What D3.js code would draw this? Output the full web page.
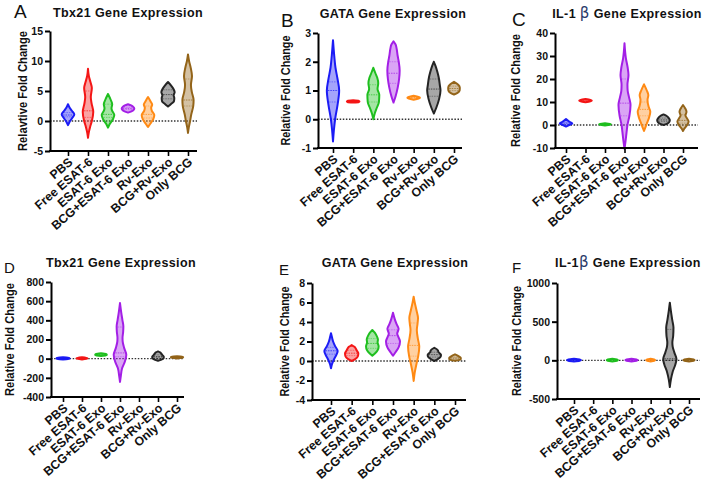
<!DOCTYPE html>
<html>
<head>
<meta charset="utf-8">
<script src="https://cdn.jsdelivr.net/npm/d3@7"></script>
<style>
  body { margin: 0; background: #fff; }
  svg { display: block; }
</style>
</head>
<body>
<svg width="708" height="483"></svg>
<script>
// groups on the x axis
const groups = ["PBS", "Free ESAT-6", "ESAT-6 Exo", "BCG+ESAT-6 Exo", "Rv-Exo", "BCG+Rv-Exo", "Only BCG"];
const groupsE = ["PBS", "Free ESAT-6", "ESAT-6 Exo", "BCG+ESAT-6 Exo", "Rv-Exo", "BCG+ESAT-6 Exo ", "Only BCG"];
const palette = ["#1c1cf5", "#f41616", "#1fbf1f", "#a31fe6", "#ff8a14", "#242424", "#936419"];

// violin outlines: [value, relative density]
const violinsA = [
  [[-0.7,0],[-0.2,0.2],[0.5,0.6],[1.1,0.9],[1.7,0.55],[2.3,0.2],[2.8,0]],
  [[-2.8,0],[-2,0.1],[-1,0.3],[0,0.55],[1.5,0.75],[3,0.5],[4,0.4],[5.5,0.55],[6.5,0.35],[7.5,0.12],[8.7,0]],
  [[-1.1,0],[-0.5,0.25],[0.3,0.7],[1,0.9],[1.7,0.6],[2.1,0.5],[2.8,0.6],[3.5,0.4],[4.5,0]],
  [[1.4,0],[1.6,0.5],[1.9,0.85],[2.1,0.9],[2.4,0.7],[2.6,0.45],[2.8,0]],
  [[-1,0],[-0.5,0.3],[0.3,0.75],[1,0.9],[1.7,0.55],[2.2,0.45],[2.7,0.6],[3.3,0.35],[4,0]],
  [[2.4,0],[2.8,0.4],[3.3,0.85],[3.8,0.9],[4.3,0.8],[4.8,0.95],[5.3,0.8],[5.9,0.45],[6.5,0]],
  [[-2,0],[-1,0.12],[0,0.3],[1,0.45],[2.5,0.75],[3.5,0.8],[4.8,0.55],[6,0.42],[7.5,0.57],[8.8,0.4],[10,0.15],[11.1,0]]
];
const statsA = [[0.7,1.0,1.4],[0.6,1.7,5.0],[0.6,1.1,2.8],[1.9,2.1,2.3],[0.5,1.1,2.5],[3.7,4.4,5.2],[2.5,3.5,7.0]];

const violinsB = [
  [[-0.77,0],[-0.4,0.12],[0,0.3],[0.5,0.65],[1,0.88],[1.4,0.65],[1.8,0.35],[2.2,0.18],[2.75,0]],
  [[0.58,0],[0.6,0.8],[0.62,0.9],[0.64,0.8],[0.66,0]],
  [[0,0],[0.2,0.2],[0.4,0.5],[0.6,0.8],[0.85,0.85],[1.05,0.6],[1.25,0.7],[1.45,0.55],[1.6,0.3],[1.79,0]],
  [[0.58,0],[0.8,0.3],[1.1,0.6],[1.4,0.8],[1.7,0.88],[2.0,0.75],[2.2,0.6],[2.45,0.45],[2.6,0.3],[2.71,0]],
  [[0.68,0],[0.72,0.7],[0.75,0.9],[0.78,0.7],[0.82,0]],
  [[0.2,0],[0.4,0.35],[0.7,0.75],[1.0,0.95],[1.2,0.85],[1.45,0.7],[1.65,0.5],[1.85,0.25],[2.0,0]],
  [[0.86,0],[0.92,0.5],[1.0,0.8],[1.1,0.83],[1.2,0.6],[1.3,0]]
];
const statsB = [[0.6,1.0,1.3],[0.61,0.62,0.63],[0.6,0.85,1.2],[1.25,1.6,2.0],[0.74,0.75,0.76],[0.8,1.05,1.4],[1.0,1.07,1.15]];

const violinsC = [
  [[-0.7,0],[0,0.45],[0.7,0.9],[1.4,0.5],[2.6,0]],
  [[9.9,0],[10.3,0.7],[10.6,0.9],[10.9,0.7],[11.3,0]],
  [[-0.2,0],[0.1,0.7],[0.3,0.83],[0.5,0.7],[0.8,0]],
  [[-10.4,0],[-7,0.15],[-3,0.3],[0,0.42],[4,0.7],[8.7,0.86],[12,0.65],[15,0.45],[17.5,0.42],[21.7,0.57],[25,0.45],[29,0.2],[35.5,0]],
  [[-2.6,0],[-1,0.2],[1,0.45],[3,0.7],[5.8,0.9],[8,0.65],[10.9,0.5],[13,0.62],[15,0.4],[17.7,0]],
  [[0,0],[0.7,0.6],[1.5,0.85],[2.2,0.9],[3,0.75],[3.8,0.5],[4.6,0]],
  [[-2.6,0],[-1.5,0.2],[0,0.6],[1.5,0.8],[3,0.55],[4.1,0.35],[5.8,0.5],[7.3,0.3],[8.7,0]]
];
const statsC = [[0.3,0.8,1.2],[10.4,10.6,10.8],[0.2,0.3,0.4],[4.0,9.5,20.0],[4.0,6.8,10.0],[1.5,2.2,3.0],[0.8,2.0,4.5]];

const violinsD = [
  [[-8,0],[-3,0.7],[3,0.95],[9,0.7],[14,0]],
  [[-8,0],[-2,0.6],[3,0.8],[8,0.6],[14,0]],
  [[28,0],[35,0.7],[42,0.83],[49,0.7],[56,0]],
  [[-243,0],[-180,0.12],[-100,0.3],[-30,0.7],[40,0.9],[110,0.6],[180,0.38],[216,0.36],[280,0.45],[337,0.48],[400,0.35],[480,0.18],[580,0]],
  null,
  [[-21,0],[-10,0.5],[5,0.8],[20,0.83],[35,0.65],[50,0.5],[65,0.3],[76,0]],
  [[2,0],[8,0.7],[14,0.88],[20,0.7],[26,0]]
];
const statsD = [[0,3,6],[0,3,6],[38,42,46],[20,60,330],null,[10,22,40],[10,14,18]];

const violinsE = [
  [[-0.75,0],[-0.3,0.15],[0.2,0.45],[0.6,0.75],[1.03,0.95],[1.5,0.6],[2,0.3],[2.4,0.15],[2.84,0]],
  [[0,0],[0.2,0.5],[0.5,0.9],[0.8,0.95],[1.05,0.75],[1.25,0.6],[1.45,0.4],[1.64,0]],
  [[0.55,0],[0.8,0.4],[1.1,0.75],[1.5,0.9],[1.9,0.75],[2.2,0.8],[2.6,0.6],[2.9,0.35],[3.18,0]],
  [[0.55,0],[0.9,0.35],[1.4,0.8],[2.0,1.0],[2.5,0.75],[2.8,0.6],[3.3,0.8],[3.8,0.5],[4.3,0.25],[4.95,0]],
  [[-2.05,0],[-1.2,0.15],[-0.3,0.4],[0.5,0.65],[1.47,0.8],[2.3,0.6],[3.18,0.45],[3.8,0.55],[4.4,0.62],[5.2,0.4],[6,0.15],[6.6,0]],
  [[0,0],[0.2,0.5],[0.45,0.9],[0.65,0.95],[0.9,0.6],[1.1,0.5],[1.36,0]],
  [[0.03,0],[0.15,0.8],[0.3,0.83],[0.45,0.6],[0.68,0]]
];
const statsE = [[0.7,1.05,1.4],[0.55,0.8,1.1],[1.3,1.8,2.3],[1.8,2.6,3.2],[0.5,1.6,3.9],[0.4,0.65,0.9],[0.2,0.3,0.4]];

const violinsF = [
  [[-15,0],[-6,0.8],[3,1.0],[12,0.8],[21,0]],
  null,
  [[-15,0],[-6,0.65],[3,0.8],[12,0.65],[21,0]],
  [[-15,0],[-6,0.7],[3,0.88],[12,0.7],[21,0]],
  [[-15,0],[-6,0.5],[3,0.64],[12,0.5],[21,0]],
  [[-345,0],[-250,0.15],[-150,0.4],[-50,0.8],[13,0.95],[100,0.65],[180,0.4],[229,0.36],[320,0.48],[423,0.52],[520,0.35],[640,0.15],[746,0]],
  [[-15,0],[-6,0.65],[3,0.8],[12,0.65],[21,0]]
];
const statsF = [[0,3,6],null,[0,3,6],[0,3,6],[0,3,6],[0,20,400],[0,3,6]];

const ticksA = [-5, 0, 5, 10, 15];
const ticksB = [-1, 0, 1, 2, 3];
const ticksC = [-10, 0, 10, 20, 30, 40];
const ticksD = [-400, -200, 0, 200, 400, 600, 800];
const ticksE = [-4, -2, 0, 2, 4, 6, 8];
const ticksF = [-500, 0, 500, 1000];

// panel setup
const panels = [
  { letter: "A", title: ["Tbx21 Gene Expression"], ylab: "Relavtive Fold Change", cats: groups,
    violins: violinsA, stats: statsA, ticks: ticksA, domain: [-5, 15],
    box: { x0: 50, x1: 197, top: 31, bot: 151, c0: 68, c1: 188, lx: 14, ly: 18, lsize: 19, tx: 128, ty: 17, yl: 27, ylen: 120 } },
  { letter: "B", title: ["GATA Gene Expression"], ylab: "Relative Fold Change", cats: groups,
    violins: violinsB, stats: statsB, ticks: ticksB, domain: [-1, 3],
    box: { x0: 318, x1: 462, top: 33, bot: 148, c0: 333, c1: 454, lx: 281, ly: 27, lsize: 19, tx: 393, ty: 18, yl: 290, ylen: 110 } },
  { letter: "C", title: ["IL-1 ", "β", " Gene Expression"], ylab: "Relative Fold Change", cats: groups,
    violins: violinsC, stats: statsC, ticks: ticksC, domain: [-10, 40],
    box: { x0: 555, x1: 698, top: 33, bot: 148, c0: 566, c1: 683, lx: 512, ly: 26, lsize: 19, tx: 627, ty: 18, yl: 520, ylen: 113 } },
  { letter: "D", title: ["Tbx21 Gene Expression"], ylab: "Relative Fold Change", cats: groups,
    violins: violinsD, stats: statsD, ticks: ticksD, domain: [-400, 800],
    box: { x0: 51, x1: 184, top: 282, bot: 397, c0: 63, c1: 177, lx: 4, ly: 273, lsize: 15, tx: 121, ty: 267, yl: 14, ylen: 113 } },
  { letter: "E", title: ["GATA Gene Expression"], ylab: "Relative Fold Change", cats: groupsE,
    violins: violinsE, stats: statsE, ticks: ticksE, domain: [-4, 8],
    box: { x0: 312, x1: 466, top: 283, bot: 400, c0: 331, c1: 455, lx: 279, ly: 275, lsize: 15, tx: 395, ty: 267, yl: 289, ylen: 110 } },
  { letter: "F", title: ["IL-1", "β", " Gene Expression"], ylab: "Relative Fold Change", cats: groups,
    violins: violinsF, stats: statsF, ticks: ticksF, domain: [-500, 1000],
    box: { x0: 557, x1: 700, top: 283, bot: 399, c0: 574, c1: 689, lx: 512, ly: 273, lsize: 15, tx: 628, ty: 267, yl: 521, ylen: 110 } }
];

const svg = d3.select("svg");
const font = "Liberation Sans, Arial, sans-serif";

// half width of a violin at a value (linear between outline points)
function halfAt(profile, v) {
  for (let i = 1; i < profile.length; i++) {
    const a = profile[i - 1], b = profile[i];
    if (v >= a[0] && v <= b[0]) {
      const t = (v - a[0]) / (b[0] - a[0] || 1);
      return a[1] + t * (b[1] - a[1]);
    }
  }
  return 0;
}

panels.forEach(p => {
  const b = p.box;
  const g = svg.append("g");
  const y = d3.scaleLinear().domain(p.domain).range([b.bot, b.top]);
  const x = d3.scalePoint().domain(p.cats).range([b.c0, b.c1]);
  const w = d3.scaleLinear().domain([0, 1]).range([0, 7]);

  // dotted zero line
  g.append("line")
    .attr("x1", b.x0).attr("x2", b.x1)
    .attr("y1", y(0)).attr("y2", y(0))
    .attr("stroke", "#333").attr("stroke-width", 1.3)
    .attr("stroke-dasharray", "1.5,1.6");

  // violins
  p.violins.forEach((prof, i) => {
    if (!prof) return;
    const cx = x(p.cats[i]);
    const area = d3.area()
      .curve(d3.curveMonotoneY)
      .y(d => y(d[0]))
      .x0(d => cx - w(d[1]))
      .x1(d => cx + w(d[1]));
    g.append("path")
      .attr("d", area(prof))
      .attr("fill", palette[i]).attr("fill-opacity", 0.4)
      .attr("stroke", palette[i]).attr("stroke-width", 2)
      .attr("stroke-linejoin", "round");

    const st = p.stats[i];
    if (st) {
      st.forEach((v, k) => {
        const hw = w(halfAt(prof, v));
        g.append("line")
          .attr("x1", cx - hw + 1).attr("x2", cx + hw - 1)
          .attr("y1", y(v)).attr("y2", y(v))
          .attr("stroke", palette[i])
          .attr("stroke-opacity", k === 1 ? 0.9 : 0.5)
          .attr("stroke-width", 0.8)
          .attr("stroke-dasharray", "1.5,1");
      });
    }
  });

  // y axis
  const yAx = g.append("g")
    .attr("transform", `translate(${b.x0},0)`)
    .call(d3.axisLeft(y).tickValues(p.ticks).tickFormat(d => String(d)).tickSize(5).tickSizeOuter(0).tickPadding(2));
  yAx.select(".domain").attr("stroke-width", 2);
  yAx.selectAll(".tick line").attr("stroke-width", 2);
  yAx.selectAll("text")
    .attr("font-family", font).attr("font-weight", "bold").attr("font-size", 10.5).attr("fill", "#111");

  // x axis
  const xAx = g.append("g")
    .attr("transform", `translate(0,${b.bot})`)
    .call(d3.axisBottom(x).tickSize(5).tickSizeOuter(0));
  xAx.select(".domain").remove();
  xAx.append("line").attr("x1", b.x0 - 1).attr("x2", b.x1).attr("stroke", "#000").attr("stroke-width", 2);
  xAx.selectAll(".tick line").attr("stroke-width", 1.6);
  xAx.selectAll("text")
    .attr("x", 0).attr("y", 0).attr("dy", "0.35em")
    .attr("transform", "translate(2,9) rotate(-41)")
    .attr("text-anchor", "end")
    .attr("font-family", font).attr("font-weight", "bold").attr("font-size", 12.3).attr("fill", "#111");

  // y label
  g.append("text")
    .attr("transform", `translate(${b.yl},${(b.top + b.bot) / 2}) rotate(-90)`)
    .attr("text-anchor", "middle")
    .attr("font-family", font).attr("font-weight", "bold").attr("font-size", 13).attr("fill", "#111")
    .attr("textLength", b.ylen).attr("lengthAdjust", "spacingAndGlyphs")
    .text(p.ylab);

  // title
  const t = g.append("text")
    .attr("x", b.tx).attr("y", b.ty)
    .attr("text-anchor", "middle")
    .attr("font-family", font).attr("font-weight", "bold").attr("font-size", 12.5)
    .attr("letter-spacing", 0.4).attr("fill", "#111");
  p.title.forEach(s => {
    const sp = t.append("tspan").text(s);
    if (s === "β") sp.attr("font-weight", "normal").attr("font-family", "DejaVu Sans").attr("font-size", 15).attr("fill", "#2a3a6a");
  });

  // panel letter
  g.append("text")
    .attr("x", b.lx).attr("y", b.ly)
    .attr("font-family", font).attr("font-size", b.lsize).attr("fill", "#111")
    .text(p.letter);
});
</script>
</body>
</html>
